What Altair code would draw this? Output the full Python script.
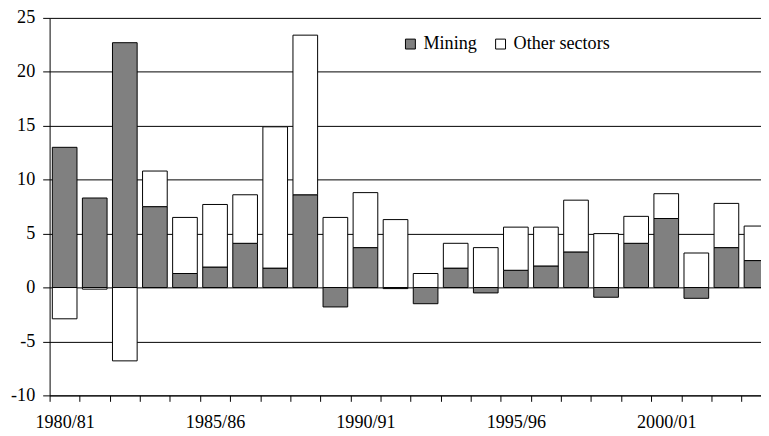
import json
import altair as alt
import pandas as pd

years = ["1980/81", "1981/82", "1982/83", "1983/84", "1984/85", "1985/86",
         "1986/87", "1987/88", "1988/89", "1989/90", "1990/91", "1991/92",
         "1992/93", "1993/94", "1994/95", "1995/96", "1996/97", "1997/98",
         "1998/99", "1999/00", "2000/01", "2001/02", "2002/03", "2003/04"]
mining = [13.0, 8.3, 22.7, 7.5, 1.3, 1.9, 4.1, 1.8, 8.6, -1.8, 3.7, -0.1,
          -1.5, 1.8, -0.5, 1.6, 2.0, 3.3, -0.9, 4.1, 6.4, -1.0, 3.7, 2.5]
other = [-2.9, -0.15, -6.8, 3.3, 5.2, 5.8, 4.5, 13.1, 14.8, 6.5, 5.1, 6.3,
         1.3, 2.3, 3.7, 4.0, 3.6, 4.8, 5.0, 2.5, 2.3, 3.2, 4.1, 3.2]
sectors = ["Mining", "Other sectors"]
y_ticks = [-10, -5, 0, 5, 10, 15, 20, 25]

rows = []
for i, yr in enumerate(years):
    rows.append({"i": i, "year": yr, "sector": sectors[0], "value": mining[i], "order": 0})
    rows.append({"i": i, "year": yr, "sector": sectors[1], "value": other[i], "order": 1})
df = pd.DataFrame(rows)

FONT = "Liberation Serif"
FS = 18.3
label_expr = "datum.value % 5 == 0 ? " + json.dumps(years) + "[datum.value] : ''"

chart = (
    alt.Chart(df)
    .transform_stack(stack="value", groupby=["i"], as_=["y0", "y1"],
                     sort=[alt.SortField("order", order="ascending")], offset="zero")
    .transform_calculate(xs="datum.i + 0.09", xe="datum.i + 0.91")
    .mark_bar(stroke="black", strokeWidth=1, clip=True)
    .encode(
        x=alt.X("xs:Q",
                scale=alt.Scale(domain=[0, 23.65], nice=False, zero=False),
                axis=alt.Axis(title=None, values=list(range(24)), labelExpr=label_expr,
                              labelOffset=15.2, labelOverlap=False, labelFlush=False,
                              tickSize=6, labelPadding=12, grid=False)),
        x2="xe:Q",
        y=alt.Y("y0:Q",
                scale=alt.Scale(domain=[-10, 25], nice=False, zero=False),
                axis=alt.Axis(title=None, values=y_ticks, tickSize=7, labelPadding=8,
                              labelExpr="'' + datum.value", grid=True)),
        y2="y1:Q",
        fill=alt.Fill("sector:N",
                      scale=alt.Scale(domain=sectors, range=["#808080", "#ffffff"]),
                      legend=alt.Legend(title=None, orient="none", legendX=355, legendY=17,
                                        direction="horizontal", symbolType="square",
                                        symbolSize=100, symbolStrokeColor="black",
                                        symbolStrokeWidth=1, labelFont=FONT,
                                        labelFontSize=FS, labelColor="black",
                                        columnPadding=14, labelOffset=4,
                                        symbolOpacity=1)),
    )
    .properties(width=718, height=381,
                autosize=alt.AutoSizeParams(type="none"),
                padding={"left": 42, "top": 8, "right": 0, "bottom": 38})
    .configure_axis(labelFont=FONT, labelFontSize=FS, labelColor="black",
                    domainColor="black", tickColor="black", gridColor="black",
                    gridWidth=1, domainWidth=1, tickWidth=1)
    .configure_view(strokeWidth=0)
)

chart.save("out.html", embed_options={"renderer": "svg", "actions": False})
